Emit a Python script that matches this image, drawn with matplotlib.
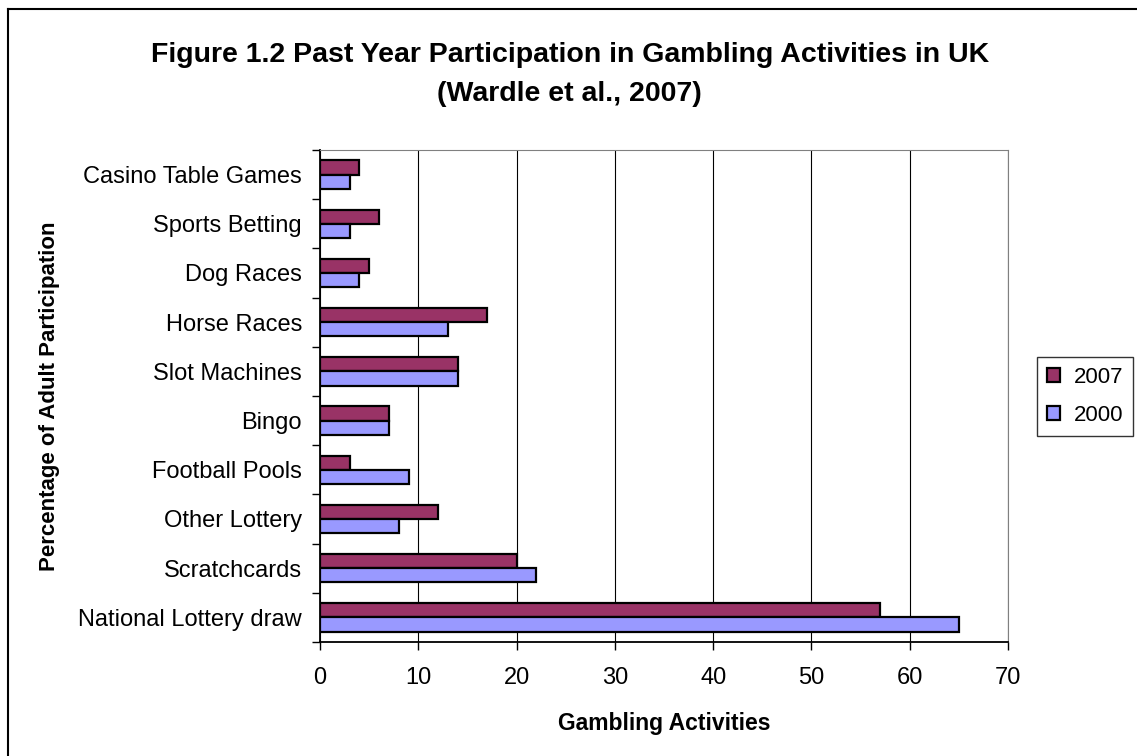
#!/usr/bin/env python3
'''Past year participation in gambling activities, UK (Wardle et al., 2007)'''

import matplotlib
matplotlib.use('Agg')
import matplotlib.pyplot as plt
from matplotlib.lines import Line2D
import numpy as np

plt.rcParams['font.family'] = ['Liberation Sans', 'DejaVu Sans']

activities = ['National Lottery draw', 'Scratchcards', 'Other Lottery', 'Football Pools',
              'Bingo', 'Slot Machines', 'Horse Races', 'Dog Races', 'Sports Betting',
              'Casino Table Games']
part_2007 = [57, 20, 12, 3, 7, 14, 17, 5, 6, 4]
part_2000 = [65, 22, 8, 9, 7, 14, 13, 4, 3, 3]
x_ticks = [0, 10, 20, 30, 40, 50, 60, 70]

fig = plt.figure(figsize=(11.37, 7.56), dpi=100)
ax = fig.add_axes([0.2815, 0.1508, 0.605, 0.6508])

y = np.arange(len(activities))
h = 0.29
ax.barh(y + h / 2, part_2007, height=h, color='#993366', edgecolor='black', linewidth=1.6,
        label='2007', zorder=3)
ax.barh(y - h / 2, part_2000, height=h, color='#9999FF', edgecolor='black', linewidth=1.6,
        label='2000', zorder=3)

ax.set_xlim(0, 70)
ax.set_ylim(-0.5, len(activities) - 0.5)
ax.set_xticks(x_ticks)
ax.set_yticks(y)
ax.set_yticklabels(activities)
ax.set_yticks(np.arange(-0.5, len(activities)), minor=True)
ax.tick_params(axis='y', which='major', length=0, labelsize=17, pad=13)
ax.tick_params(axis='y', which='minor', length=6, width=1, direction='out')
ax.tick_params(axis='x', length=6, width=1, direction='out', labelsize=17, pad=12)

ax.grid(axis='x', color='black', linewidth=0.8, zorder=0)
for side in ['top', 'right']:
    ax.spines[side].set_color('#808080')
for side in ['left', 'bottom']:
    ax.spines[side].set_color('black')
    ax.spines[side].set_linewidth(1.3)

ax.set_xlabel('Gambling Activities', fontsize=16.5, fontweight='bold', va='top')
ax.xaxis.set_label_coords(0.5, -0.142)
ax.set_ylabel('Percentage of Adult Participation', fontsize=16, fontweight='bold')
ax.yaxis.set_label_coords(-0.378, 0.5)

fig.text(0.501, 0.945, 'Figure 1.2 Past Year Participation in Gambling Activities in UK\n(Wardle et al., 2007)',
         ha='center', va='top', fontsize=20.5, fontweight='bold', linespacing=1.65)

leg = fig.legend(loc='upper right', bbox_to_anchor=(1133 / 1137, 1 - 357 / 756), fontsize=16,
                 frameon=True, fancybox=False, edgecolor='black', handlelength=0.6,
                 handleheight=0.6, handletextpad=0.6, borderpad=0.45, labelspacing=0.75,
                 borderaxespad=0)
leg.get_frame().set_linewidth(1.0)

# partial frame round the figure (left and top edges only, like the cropped original)
fig.lines.append(Line2D([8 / 1137, 8 / 1137], [0, 1 - 9 / 756], transform=fig.transFigure,
                        color='black', linewidth=1.5))
fig.lines.append(Line2D([8 / 1137, 1], [1 - 9 / 756, 1 - 9 / 756], transform=fig.transFigure,
                        color='black', linewidth=1.5))

fig.savefig('out.png', dpi=100)
